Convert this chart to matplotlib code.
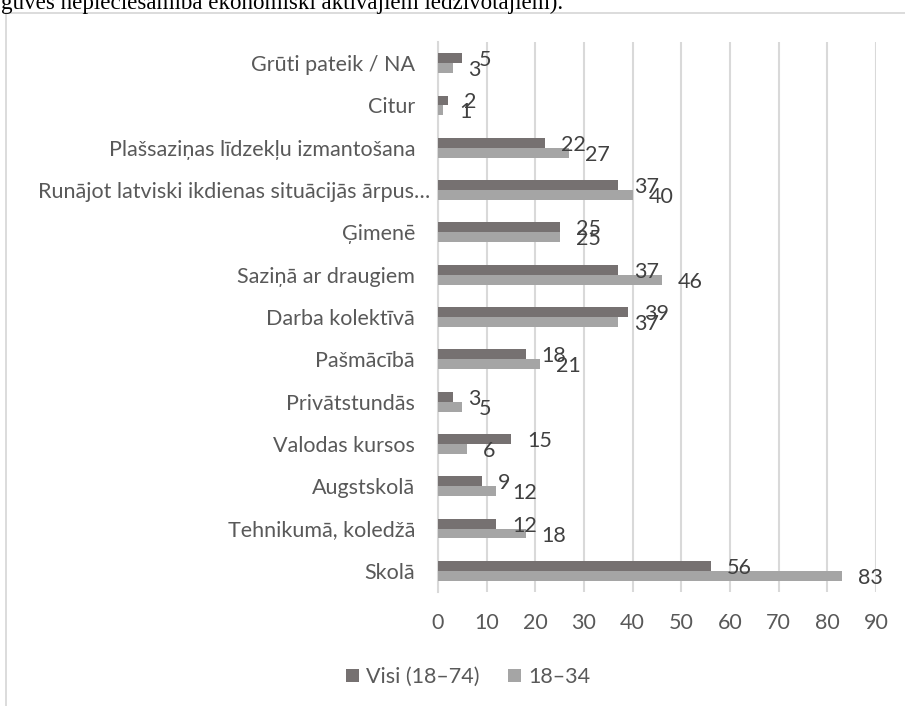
import matplotlib
matplotlib.use("Agg")
import matplotlib.pyplot as plt
import matplotlib.transforms as mtransforms
from matplotlib.patches import Rectangle, Patch
import numpy as np

categories = ["Skolā", "Tehnikumā, koledžā", "Augstskolā", "Valodas kursos",
              "Privātstundās", "Pašmācībā", "Darba kolektīvā", "Saziņā ar draugiem",
              "Ģimenē", "Runājot latviski ikdienas situācijās ārpus…",
              "Plašsaziņas līdzekļu izmantošana", "Citur", "Grūti pateik / NA"]
visi = [56, 12, 9, 15, 3, 18, 39, 37, 25, 37, 22, 2, 5]
young = [83, 18, 12, 6, 5, 21, 37, 46, 25, 40, 27, 1, 3]
series_names = ["Visi (18–74)", "18–34"]
xticks = [0, 10, 20, 30, 40, 50, 60, 70, 80, 90]

dark = "#767171"
light = "#A5A5A5"
grid_c = "#D9D9D9"
txt_c = "#595959"
lab_c = "#404040"
FONT = "Lato"
FS = 15.5

fig = plt.figure(figsize=(9.05, 7.06), dpi=100)
ax = fig.add_axes([438/905, 1-592/706, (876-438)/905, (592-42)/706])

y = np.arange(len(categories))
h = 0.235
ax.barh(y + h/2, visi, height=h, color=dark, zorder=3)
ax.barh(y - h/2, young, height=h, color=light, zorder=3)

off = mtransforms.offset_copy(ax.transData, fig=fig, x=16/100*72, y=-2/100*72, units='points')
for yi, v in zip(y, visi):
    ax.text(v, yi + h/2, str(v), transform=off, ha='left', va='center',
            fontsize=FS, color=lab_c, family=FONT, zorder=4)
for yi, v in zip(y, young):
    ax.text(v, yi - h/2, str(v), transform=off, ha='left', va='center',
            fontsize=FS, color=lab_c, family=FONT, zorder=4)

ax.set_xlim(0, 90)
ax.set_ylim(-0.5, len(categories) - 0.5)
ax.set_xticks(xticks)
ax.set_xticklabels([str(t) for t in xticks], fontsize=FS, color=txt_c, family=FONT)
ax.set_yticks(y)
ax.set_yticklabels(categories, fontsize=FS, color=txt_c, family=FONT)
ax.tick_params(axis='both', length=0)
ax.tick_params(axis='y', pad=16.5)
ax.tick_params(axis='x', pad=15)
ax.xaxis.grid(True, color=grid_c, linewidth=1.5, zorder=0)
for s in ['top', 'right', 'bottom']:
    ax.spines[s].set_visible(False)
ax.spines['left'].set_color(grid_c)
ax.spines['left'].set_linewidth(1.5)

# long label shifted slightly right (as in the reference)
for lbl in ax.get_yticklabels():
    if lbl.get_text().endswith("…"):
        lbl.set_transform(lbl.get_transform() + mtransforms.ScaledTranslation(15/100, 0, fig.dpi_scale_trans))

handles = [Patch(facecolor=dark, edgecolor='none'), Patch(facecolor=light, edgecolor='none')]
fig.legend(handles, series_names, loc='center', bbox_to_anchor=(468/905, 1-677/706),
           ncol=2, frameon=False, handlelength=0.6, handleheight=0.6, handletextpad=0.35,
           columnspacing=1.3, prop={'family': FONT, 'size': FS}, labelcolor=txt_c)

# outer chart border
fig.patches.append(Rectangle((6/905, -0.05), 1.05, 1-13/706 + 0.05, transform=fig.transFigure,
                             fill=False, edgecolor=grid_c, linewidth=1.3, zorder=0))

fig.text(1/905, 1-9/706, "gūves nepieciešamība ekonomiski aktīvajiem iedzīvotājiem).",
         fontsize=16.6, family="Liberation Serif", color="black", ha='left', va='baseline')

fig.savefig("out.png", dpi=100)
